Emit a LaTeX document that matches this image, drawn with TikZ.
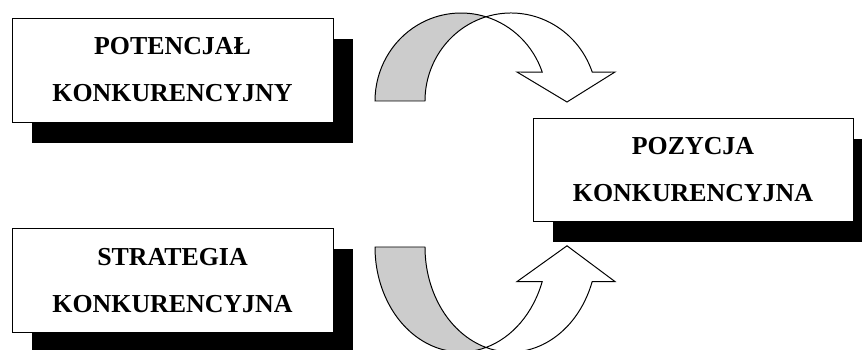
\documentclass[tikz,border=0pt]{standalone}
\usepackage{fontspec}
\setmainfont{Liberation Serif}
\usetikzlibrary{shadows}

\definecolor{tylszary}{RGB}{204,204,204}

\tikzset{
	pole/.style = {draw, fill = white, line width = 0.6pt, minimum width = 8.025cm, minimum height = 2.6cm, align = center, font = \fontsize{18.4}{33.4}\selectfont\bfseries, drop shadow = {shadow xshift = 0.5cm, shadow yshift = -0.525cm, opacity = 1, fill = black}},
	tyl/.style = {draw, fill = tylszary, line width = 0.7pt},
	przod/.style = {draw, fill = white, line width = 0.7pt}
}

% luk ze strzalka, srodek lewej elipsy w (0,0)
\newcommand{\lukstrzalka}{%
	\draw[tyl] (180:86 and 88) arc[start angle = 180, end angle = 73.1, x radius = 86, y radius = 88] arc[start angle = 106.9, end angle = 180, x radius = 86, y radius = 88] -- cycle;
	\draw[przod] (73.1:86 and 88) arc[start angle = 106.9, end angle = 19.2, x radius = 86, y radius = 88] -- (154, 29) -- (106, -1) -- (56, 29) -- (19.2:86 and 88) arc[start angle = 19.2, end angle = 73.1, x radius = 86, y radius = 88] -- cycle;
}

\begin{document}
\begin{tikzpicture}[x = 0.025cm, y = 0.025cm]
	
		\useasboundingbox (0, 0) rectangle (862, 349);
		\clip (0, 0) rectangle (862, 349);
		
		\node[pole] (potencjal) at (172.5, 279) {POTENCJAŁ\\KONKURENCYJNY};
		\node[pole] (strategia) at (172.5, 68.5) {STRATEGIA\\KONKURENCYJNA};
		\node[pole, minimum width = 8cm, minimum height = 2.575cm] (pozycja) at (693, 179.5) {POZYCJA\\KONKURENCYJNA};
		
		\begin{scope}[shift = {(461, 248)}]
			\lukstrzalka
		\end{scope}
		
		\begin{scope}[shift = {(461, 102)}, yscale = -1.193]
			\lukstrzalka
		\end{scope}
		
	\end{tikzpicture}
\end{document}
